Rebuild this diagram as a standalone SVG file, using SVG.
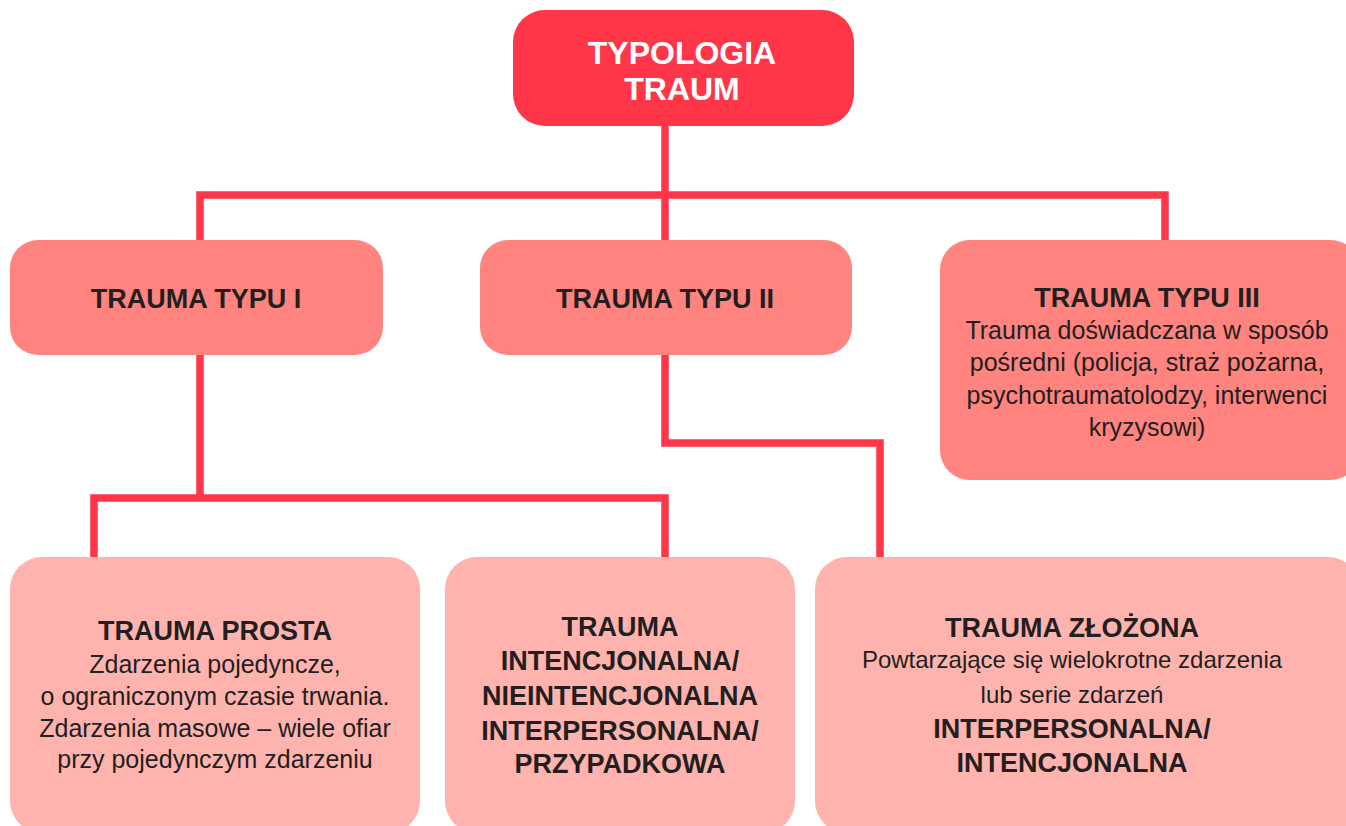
<svg xmlns="http://www.w3.org/2000/svg" width="1346" height="826" viewBox="0 0 1346 826">
<style>
.edge{fill:none;stroke:#FF3548;stroke-width:7.5;stroke-linejoin:miter;stroke-linecap:butt}
.top{fill:#FF3548}
.mid{fill:#FF837E}
.low{fill:#FFB3AE}
text{font-family:"Liberation Sans",Arial,sans-serif;text-anchor:middle;fill:#231F20}
.b{font-weight:bold;font-size:27px}
.r{font-size:25px}
.s{font-size:24px}
.t{font-weight:bold;font-size:32px;fill:#FFFFFF}
</style>
<rect width="1346" height="826" fill="#FFFFFF"/>
<g id="connectors">
<path class="edge" d="M665 125 V240"/>
<path class="edge" d="M200 240 V195 H1165 V240"/>
<path class="edge" d="M200 355 V498"/>
<path class="edge" d="M94 557 V498 H665 V557"/>
<path class="edge" d="M665 355 V443 H880 V557"/>
</g>
<g id="typologia">
<rect class="top" x="513" y="10" width="341" height="116" rx="32"/>
<text class="t" x="682" y="64">TYPOLOGIA</text>
<text class="t" x="682" y="100">TRAUM</text>
</g>
<g id="typ1">
<rect class="mid" x="10" y="240" width="373" height="115" rx="28"/>
<text class="b" x="196" y="308">TRAUMA TYPU I</text>
</g>
<g id="typ2">
<rect class="mid" x="480" y="240" width="372" height="115" rx="28"/>
<text class="b" x="665" y="308">TRAUMA TYPU II</text>
</g>
<g id="typ3">
<rect class="mid" x="940" y="240" width="420" height="240" rx="30"/>
<text class="b" x="1147" y="307">TRAUMA TYPU III</text>
<text class="r" x="1147" y="339">Trauma doświadczana w sposób</text>
<text class="r" x="1147" y="371">pośredni (policja, straż pożarna,</text>
<text class="r" x="1147" y="404">psychotraumatolodzy, interwenci</text>
<text class="r" x="1147" y="436">kryzysowi)</text>
</g>
<g id="prosta">
<rect class="low" x="10" y="557" width="410" height="276" rx="32"/>
<text class="b" x="215" y="640">TRAUMA PROSTA</text>
<text class="r" x="215" y="673">Zdarzenia pojedyncze,</text>
<text class="r" x="215" y="705">o ograniczonym czasie trwania.</text>
<text class="r" x="215" y="737">Zdarzenia masowe – wiele ofiar</text>
<text class="r" x="215" y="768">przy pojedynczym zdarzeniu</text>
</g>
<g id="intencjonalna">
<rect class="low" x="445" y="557" width="350" height="276" rx="32"/>
<text class="b" x="620" y="636">TRAUMA</text>
<text class="b" x="620" y="670">INTENCJONALNA/</text>
<text class="b" x="620" y="705">NIEINTENCJONALNA</text>
<text class="b" x="620" y="740">INTERPERSONALNA/</text>
<text class="b" x="620" y="773">PRZYPADKOWA</text>
</g>
<g id="zlozona">
<rect class="low" x="815" y="557" width="545" height="276" rx="32"/>
<text class="b" x="1072" y="637">TRAUMA ZŁOŻONA</text>
<text class="s" x="1072" y="668">Powtarzające się wielokrotne zdarzenia</text>
<text class="s" x="1072" y="703">lub serie zdarzeń</text>
<text class="b" x="1072" y="738">INTERPERSONALNA/</text>
<text class="b" x="1072" y="772">INTENCJONALNA</text>
</g>
</svg>
